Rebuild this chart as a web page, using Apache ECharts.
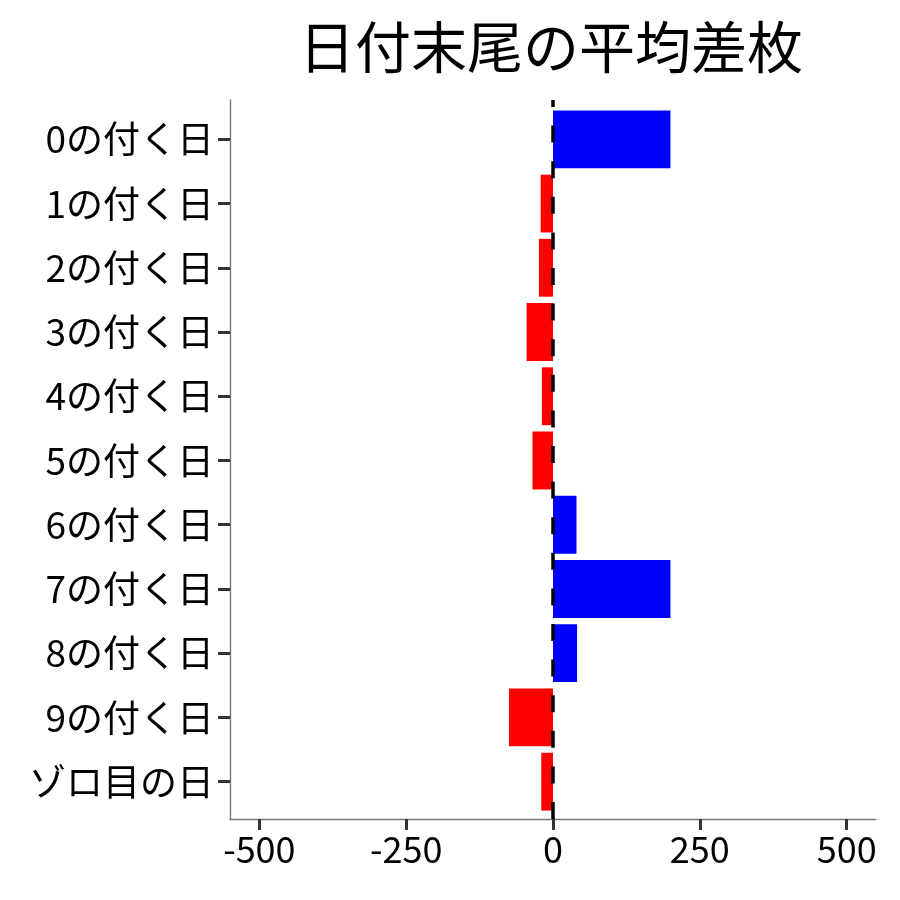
<!DOCTYPE html>
<html>
<head>
<meta charset="utf-8">
<script src="https://cdn.jsdelivr.net/npm/echarts@6/dist/echarts.min.js"></script>
<style>
html,body{margin:0;padding:0;background:#fff;}
#chart{width:900px;height:900px;}
</style>
</head>
<body>
<div id="chart"></div>
<script>
const titleText = '日付末尾の平均差枚';
const categories = ['0の付く日','1の付く日','2の付く日','3の付く日','4の付く日','5の付く日','6の付く日','7の付く日','8の付く日','9の付く日','ゾロ目の日'];
const values = [200, -21, -24, -45, -19, -35, 40, 200, 41, -75, -20];
const xTicks = [-500, -250, 0, 250, 500];
const xMin = -550, xMax = 550;
const zeroLine = [[0, 0], [0, 1]];

const FONT = '"Noto Sans CJK JP", "Noto Sans", sans-serif';
const chart = echarts.init(document.getElementById('chart'), null, {renderer: 'canvas'});

const option = {
  backgroundColor: '#ffffff',
  animation: false,
  title: {
    text: titleText,
    left: 546,
    top: 14,
    textAlign: 'center',
    textStyle: {fontFamily: FONT, fontSize: 56, fontWeight: 'normal', color: '#000'}
  },
  grid: [
    {left: 230, right: 24, top: 100, bottom: 81},
    {left: 230, right: 24, top: 107.2, bottom: 86.2}
  ],
  xAxis: [
    {
      gridIndex: 0, type: 'value', min: xMin, max: xMax, position: 'bottom',
      axisLine: {show: true, onZero: false, lineStyle: {color: '#777777', width: 1.4}},
      axisTick: {show: true, customValues: xTicks, length: 11, lineStyle: {color: '#333333', width: 3}},
      axisLabel: {show: true, customValues: xTicks, margin: 12, fontFamily: FONT, fontSize: 36, color: '#000'},
      splitLine: {show: false}
    },
    {
      gridIndex: 1, type: 'value', min: xMin, max: xMax, show: false,
      axisLine: {onZero: false},
      splitLine: {show: false}
    }
  ],
  yAxis: [
    {
      gridIndex: 0, type: 'value', min: 0, max: 1, position: 'left',
      axisLine: {show: true, onZero: false, lineStyle: {color: '#777777', width: 1.4}},
      axisTick: {show: false}, axisLabel: {show: false}, splitLine: {show: false}
    },
    {
      gridIndex: 1, type: 'category', data: categories, inverse: true, position: 'left',
      axisLine: {show: false, onZero: false},
      axisTick: {show: true, alignWithLabel: true, length: 12, lineStyle: {color: '#333333', width: 3}},
      axisLabel: {margin: 16, fontFamily: FONT, fontSize: 37, color: '#000'},
      splitLine: {show: false}
    }
  ],
  series: [
    {
      type: 'bar', xAxisIndex: 1, yAxisIndex: 1,
      barWidth: '90%',
      data: values.map(v => ({value: v, itemStyle: {color: v >= 0 ? '#0000FF' : '#FF0000'}})),
      z: 2
    },
    {
      type: 'line', xAxisIndex: 0, yAxisIndex: 0,
      data: zeroLine, symbol: 'none',
      lineStyle: {color: '#000000', width: 3.5, type: [17, 18.6]},
      z: 5
    }
  ]
};
chart.setOption(option);
</script>
</body>
</html>
